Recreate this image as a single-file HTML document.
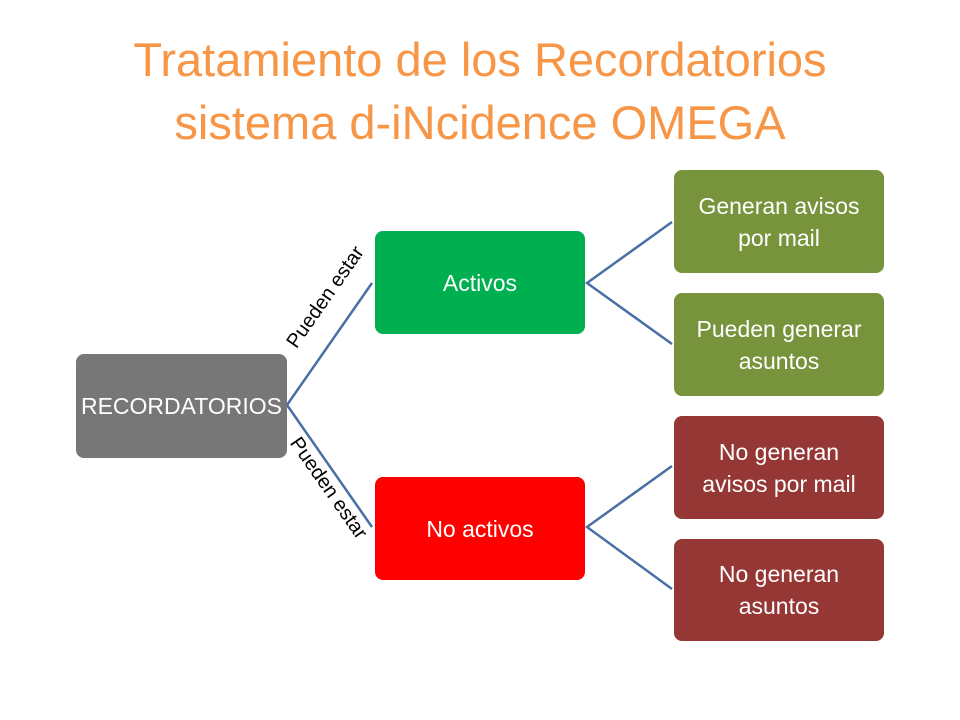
<!DOCTYPE html>
<html><head><style>
body{margin:0;width:960px;height:720px;background:#fff;position:relative;overflow:hidden;font-family:"Liberation Sans",sans-serif}
.t{position:absolute;left:0;width:960px;text-align:center;color:#F79646;font-size:47px;line-height:63px;top:28px}
.b{position:absolute;border-radius:8px;color:#fff;display:flex;align-items:center;justify-content:center;text-align:center;font-size:23px;line-height:32px}
.l{position:absolute;font-size:20px;color:#000;white-space:nowrap;transform-origin:center}
</style></head><body>
<div class="t">Tratamiento de los Recordatorios<br>sistema d-iNcidence OMEGA</div>
<svg width="960" height="720" style="position:absolute;left:0;top:0">
<g stroke="#4A6FA5" stroke-width="2.5" fill="none">
<polyline points="372,283 287,405 372,527"/>
<polyline points="672,222 587,283 672,344"/>
<polyline points="672,466 587,527 672,589"/>
</g></svg>
<div class="b" style="left:76px;top:354px;width:211px;height:104px;background:#777">RECORDATORIOS</div>
<div class="b" style="left:375px;top:231px;width:210px;height:103px;background:#00B050">Activos</div>
<div class="b" style="left:375px;top:477px;width:210px;height:103px;background:#FF0000">No activos</div>
<div class="b" style="left:674px;top:170px;width:210px;height:103px;background:#77933C">Generan avisos<br>por mail</div>
<div class="b" style="left:674px;top:293px;width:210px;height:103px;background:#77933C">Pueden generar<br>asuntos</div>
<div class="b" style="left:674px;top:416px;width:210px;height:103px;background:#953735">No generan<br>avisos por mail</div>
<div class="b" style="left:674px;top:539px;width:210px;height:102px;background:#953735">No generan<br>asuntos</div>
<div class="l" style="left:266px;top:286px;width:120px;text-align:center;transform:rotate(-55deg)">Pueden estar</div>
<div class="l" style="left:268px;top:477px;width:120px;text-align:center;transform:rotate(55deg)">Pueden estar</div>
</body></html>
